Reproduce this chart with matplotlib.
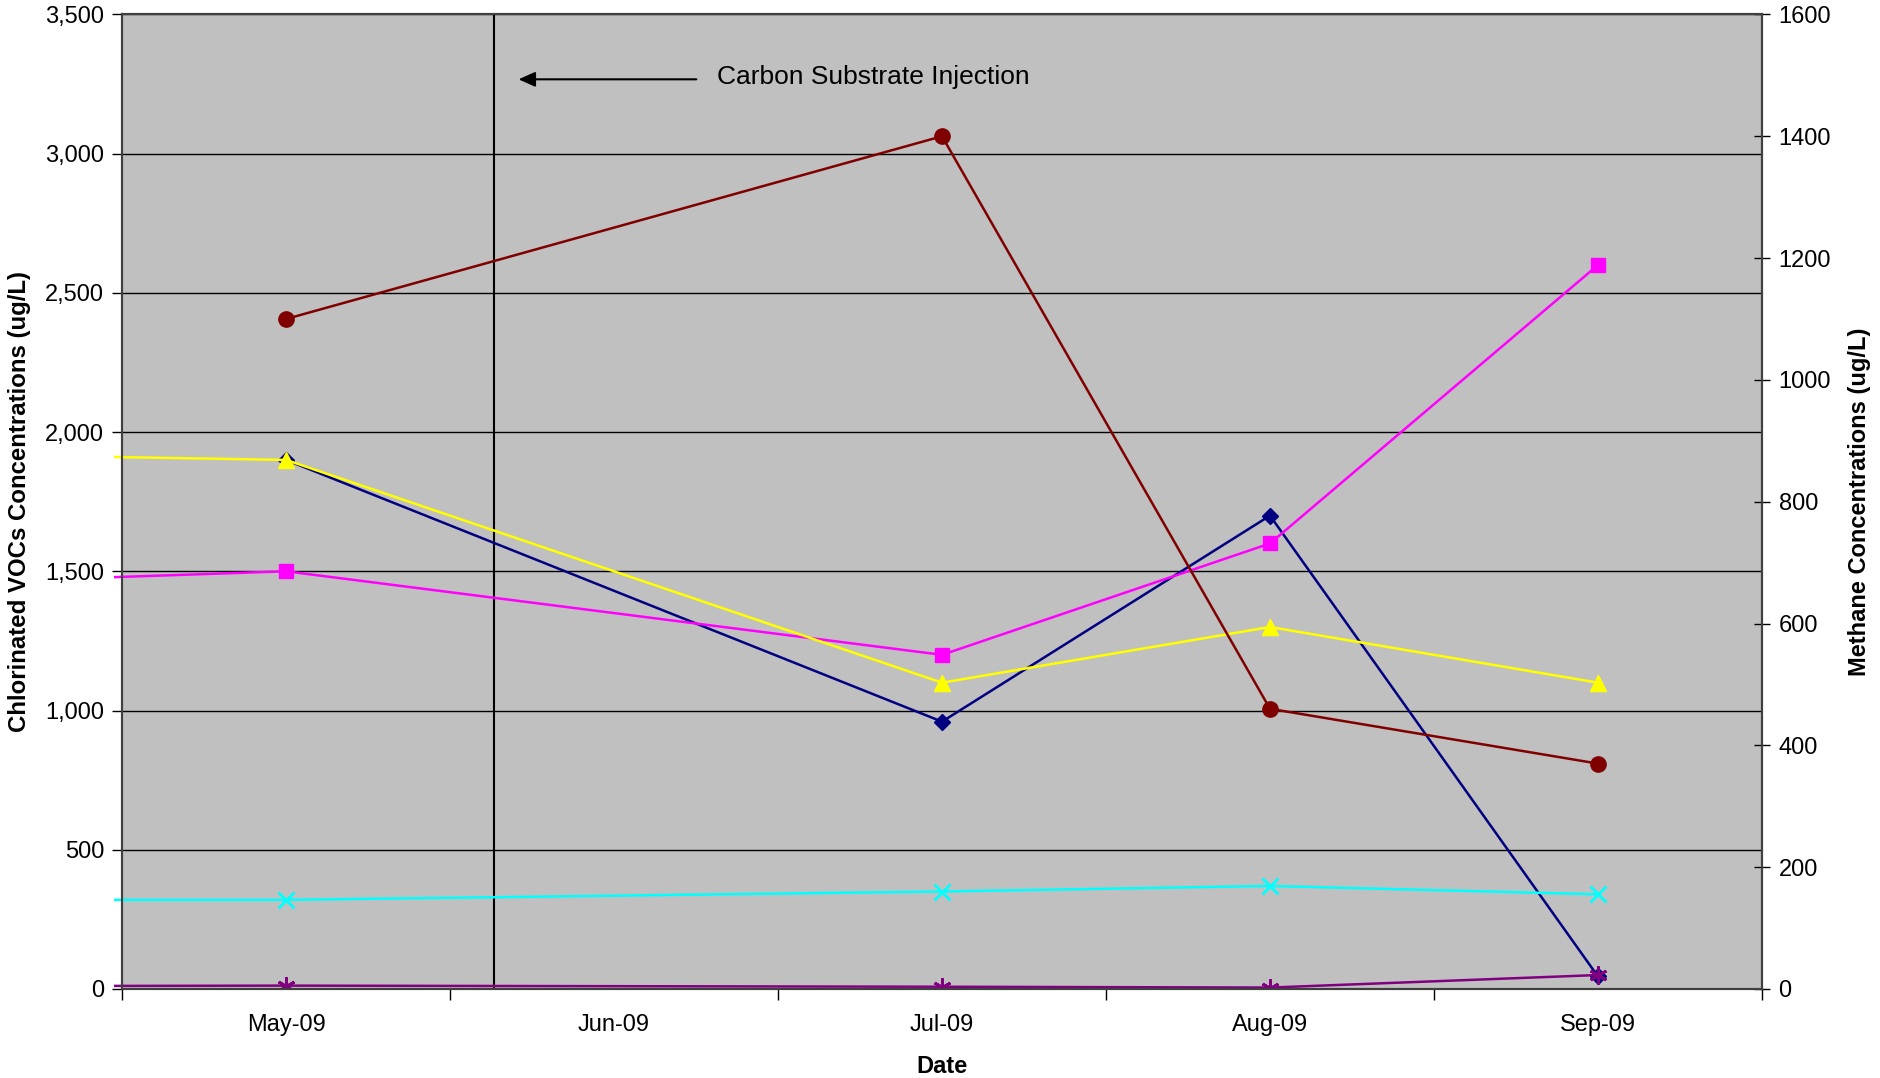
import numpy as np
import matplotlib
matplotlib.use("Agg")
import matplotlib.pyplot as plt
from matplotlib.ticker import FuncFormatter, MultipleLocator
from matplotlib.transforms import Bbox, TransformedBbox

plt.rcParams['font.family'] = ['Liberation Sans', 'DejaVu Sans']

# months of the category axis (Apr-09 only feeds the clipped line stubs on the left)
months = ['Apr-09', 'May-09', 'Jun-09', 'Jul-09', 'Aug-09', 'Sep-09']
shown_months = months[1:]

# chlorinated VOCs (left axis, ug/L); nan = not sampled
navy_vals = [np.nan, 1900, np.nan, 960, 1700, 45]
magenta_vals = [1460, 1500, np.nan, 1200, 1600, 2600]
yellow_vals = [1920, 1900, np.nan, 1100, 1300, 1100]
cyan_vals = [320, 320, np.nan, 350, 370, 340]
purple_vals = [10, 12, np.nan, 8, 5, 50]

# methane (right axis, ug/L)
methane_vals = [np.nan, 1100, np.nan, 1400, 460, 370]

injection_pos = 0.635  # between May and Jun

x = np.arange(len(months)) - 1

fig = plt.figure(figsize=(18.81, 10.78), dpi=100)
ax = fig.add_axes([0.0649, 0.0826, 0.8718, 0.904])
ax.set_facecolor('#C0C0C0')

def draw(axis, vals, color, marker, ms, z, mew=1.0):
    v = np.array(vals, dtype=float)
    m = ~np.isnan(v)
    ln, = axis.plot(x[m], v[m], color=color, lw=1.8, marker=marker, ms=ms,
                    mfc=color, mec=color, mew=mew, zorder=z)
    # excel lets the clipped stub poke a few pixels past the left axis
    ln.set_clip_box(TransformedBbox(Bbox([[-0.005, 0], [1, 1]]), axis.transAxes))

draw(ax, navy_vals, '#000080', 'D', 8, 3)
draw(ax, magenta_vals, '#FF00FF', 's', 10, 4)
draw(ax, yellow_vals, '#FFFF00', '^', 11, 5)
draw(ax, cyan_vals, '#00FFFF', 'x', 11, 6, mew=2)
draw(ax, purple_vals, '#800080', (6, 2, 0), 13, 7, mew=2)

ax.axvline(injection_pos, color='black', lw=1.5, zorder=2)

ax.set_xlim(-0.5, 4.5)
ax.set_ylim(0, 3500)
ax.yaxis.set_major_locator(MultipleLocator(500))
ax.yaxis.set_major_formatter(FuncFormatter(lambda v, p: f"{v:,.0f}"))
ax.grid(axis='y', color='black', lw=1.0, zorder=1)
ax.set_axisbelow(True)

ax.set_xticks(np.arange(-0.5, 5, 1))
ax.set_xticklabels([])
ax.set_xticks(np.arange(len(shown_months)), minor=True)
ax.set_xticklabels(shown_months, minor=True)
ax.tick_params(axis='x', which='major', direction='out', length=8, width=1)
ax.tick_params(axis='x', which='minor', length=0, pad=18, labelsize=17)
ax.tick_params(axis='y', direction='out', length=7, width=1, labelsize=17, pad=6)

for s in ax.spines.values():
    s.set_color('#404040')
    s.set_linewidth(1.5)

ax.set_xlabel('Date', fontsize=17, fontweight='bold', labelpad=14)
ax.set_ylabel('Chlorinated VOCs Concentrations (ug/L)', fontsize=17.3,
              fontweight='bold', labelpad=10)

ax2 = ax.twinx()
draw(ax2, methane_vals, '#800000', 'o', 11, 8)
ax2.set_ylim(0, 1600)
ax2.yaxis.set_major_locator(MultipleLocator(200))
ax2.tick_params(axis='y', direction='inout', length=12, width=1, labelsize=17, pad=6)
for s in ax2.spines.values():
    s.set_color('#404040')
    s.set_linewidth(1.5)
ax2.set_ylabel('Methane Concentrations (ug/L)', fontsize=17, fontweight='bold',
               labelpad=12)

ax.annotate('', xy=(0.709, 3267), xytext=(1.251, 3267),
            arrowprops=dict(arrowstyle='-|>,head_length=1.0,head_width=0.45',
                            color='black', lw=1.5, shrinkA=0, shrinkB=0),
            zorder=9)
ax.text(1.313, 3275, 'Carbon Substrate Injection', fontsize=19,
        va='center', ha='left', zorder=9)

fig.savefig('out.png', dpi=100)
